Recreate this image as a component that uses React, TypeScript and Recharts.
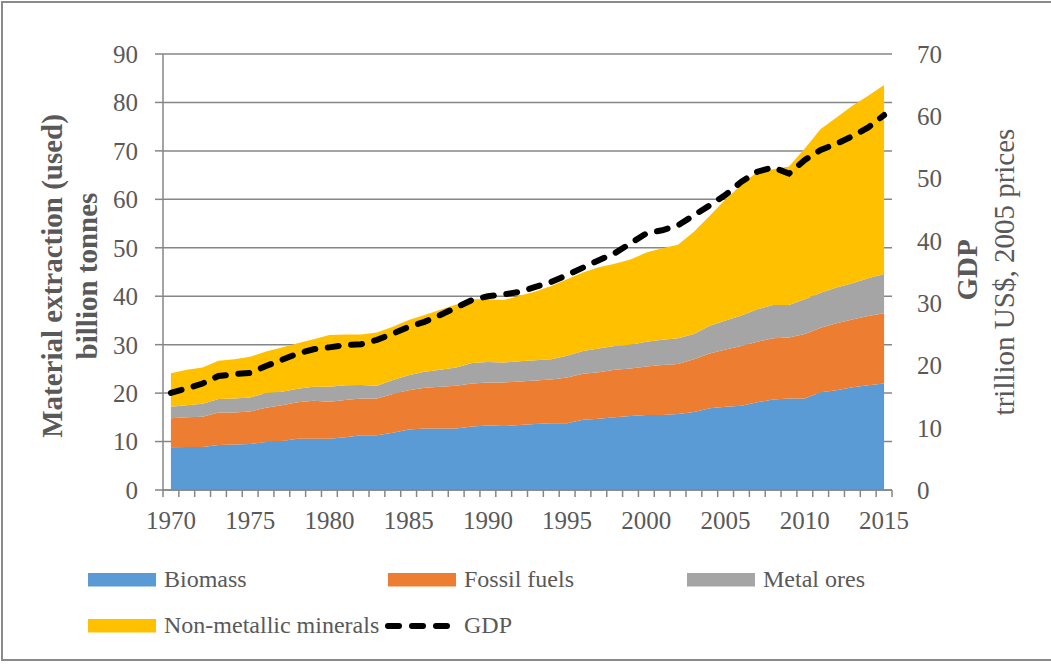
import React from 'react';
import { ComposedChart, Area, Line, XAxis, YAxis, CartesianGrid } from 'recharts';

const years = [
  1970, 1971, 1972, 1973, 1974, 1975, 1976, 1977, 1978, 1979,
  1980, 1981, 1982, 1983, 1984, 1985, 1986, 1987, 1988, 1989,
  1990, 1991, 1992, 1993, 1994, 1995, 1996, 1997, 1998, 1999,
  2000, 2001, 2002, 2003, 2004, 2005, 2006, 2007, 2008, 2009,
  2010, 2011, 2012, 2013, 2014, 2015,
];

// billion tonnes
const biomass = [
  8.8, 8.9, 8.9, 9.3, 9.4, 9.5, 9.9, 10.1, 10.6, 10.6,
  10.6, 10.9, 11.3, 11.3, 11.8, 12.5, 12.7, 12.7, 12.7, 13.1,
  13.3, 13.2, 13.4, 13.6, 13.8, 13.8, 14.5, 14.7, 15.0, 15.3,
  15.5, 15.5, 15.7, 16.1, 16.9, 17.2, 17.4, 18.1, 18.7, 18.9,
  18.9, 20.2, 20.6, 21.2, 21.6, 22.0,
];
const fossilFuels = [
  6.0, 6.1, 6.2, 6.7, 6.6, 6.7, 7.1, 7.4, 7.5, 7.8,
  7.6, 7.7, 7.6, 7.6, 8.0, 8.1, 8.4, 8.6, 8.8, 8.9,
  8.9, 9.0, 9.0, 9.0, 9.0, 9.4, 9.5, 9.6, 9.8, 9.8,
  10.0, 10.3, 10.3, 10.9, 11.3, 11.8, 12.3, 12.5, 12.6, 12.6,
  13.3, 13.3, 13.8, 14.0, 14.3, 14.5,
];
const metalOres = [
  2.4, 2.5, 2.7, 2.8, 2.9, 2.9, 3.0, 2.8, 2.8, 2.9,
  3.1, 3.0, 2.8, 2.6, 2.9, 3.1, 3.3, 3.5, 3.8, 4.2,
  4.2, 4.1, 4.2, 4.2, 4.2, 4.5, 4.7, 4.9, 4.9, 4.9,
  5.1, 5.2, 5.3, 5.2, 5.7, 6.0, 6.3, 6.7, 6.9, 6.7,
  7.2, 7.2, 7.4, 7.5, 7.8, 8.1,
];
const nonMetallic = [
  6.9, 7.3, 7.5, 7.9, 8.1, 8.4, 8.6, 9.1, 9.4, 9.8,
  10.7, 10.5, 10.4, 11.0, 11.0, 11.4, 11.7, 12.4, 13.0, 13.2,
  13.0, 12.9, 13.5, 14.2, 15.1, 15.8, 16.2, 16.8, 17.0, 17.6,
  18.4, 18.9, 19.3, 21.1, 22.7, 25.0, 27.0, 28.4, 28.0, 28.6,
  31.1, 33.8, 35.1, 36.6, 37.7, 39.0,
];
// trillion US$, 2005 prices
const gdp = [
  15.6, 16.3, 17.1, 18.3, 18.6, 18.8, 19.9, 20.9, 21.9, 22.6,
  22.9, 23.3, 23.4, 24.1, 25.1, 26.2, 27.0, 28.1, 29.3, 30.5,
  31.1, 31.4, 31.8, 32.6, 33.4, 34.5, 35.7, 36.9, 38.0, 39.6,
  41.2, 41.7, 42.5, 44.1, 45.7, 47.4, 49.5, 51.1, 51.8, 50.8,
  53.0, 54.6, 55.6, 56.8, 58.2, 60.2,
];

const leftTicks = [0, 10, 20, 30, 40, 50, 60, 70, 80, 90];
const rightTicks = [0, 10, 20, 30, 40, 50, 60, 70];

const areaSeries = [
  { key: 'biomass', name: 'Biomass', color: '#5B9BD5' },
  { key: 'fossil', name: 'Fossil fuels', color: '#ED7D31' },
  { key: 'metal', name: 'Metal ores', color: '#A5A5A5' },
  { key: 'nonmet', name: 'Non-metallic minerals', color: '#FFC000' },
];

const data = years.map((year, i) => ({
  year,
  biomass: biomass[i],
  fossil: fossilFuels[i],
  metal: metalOres[i],
  nonmet: nonMetallic[i],
  gdp: gdp[i],
}));

const W = 1051;
const LEFT_W = 163;
const RIGHT_W = 159;
const HALF_BAND = (W - LEFT_W - RIGHT_W) / years.length / 2;
const FONT = '"Liberation Serif", "DejaVu Serif", serif';
const TEXT = '#595959';
const GRID = '#868686';

function XTick(props: any) {
  const { x, y, payload, index } = props;
  const year = payload.value;
  return (
    <g>
      <line x1={x - HALF_BAND} y1={y} x2={x - HALF_BAND} y2={y + 7} stroke={GRID} strokeWidth={1.5} />
      {index === years.length - 1 && (
        <line x1={x + HALF_BAND} y1={y} x2={x + HALF_BAND} y2={y + 7} stroke={GRID} strokeWidth={1.5} />
      )}
      {year % 5 === 0 && (
        <text x={x} y={y + 39} textAnchor="middle" fill={TEXT} fontSize={25} fontFamily={FONT}>
          {year}
        </text>
      )}
    </g>
  );
}

// legend layout: 3 columns, 2 rows
const legendItems = [
  ...areaSeries.map((s) => ({ name: s.name, color: s.color, dashed: false })),
  { name: 'GDP', color: '#000', dashed: true },
];
const legendCols = [88, 388, 687];
const legendRows = [573, 619];

export default function App() {
  return (
    <div
      style={{
        position: 'absolute',
        left: 0,
        top: 0,
        width: W,
        height: 664,
        background: '#fff',
        fontFamily: FONT,
        overflow: 'hidden',
      }}
    >
      <div
        style={{
          position: 'absolute',
          left: 1,
          top: 1,
          width: W,
          height: 660,
          boxSizing: 'border-box',
          borderLeft: '2px solid #8a8a8a',
          borderTop: '2px solid #8a8a8a',
          borderBottom: '2px solid #8a8a8a',
        }}
      />
      <div style={{ position: 'absolute', left: 0, top: 0 }}>
        <ComposedChart width={W} height={550} data={data} margin={{ top: 54, right: 0, bottom: 0, left: 0 }}>
          <CartesianGrid yAxisId="left" vertical={false} stroke={GRID} strokeWidth={1.5} />
          <XAxis
            dataKey="year"
            height={60}
            padding={{ left: HALF_BAND, right: HALF_BAND }}
            interval={0}
            tickLine={false}
            tickSize={0}
            tickMargin={0}
            axisLine={{ stroke: GRID, strokeWidth: 1.5 }}
            tick={<XTick />}
          />
          <YAxis
            yAxisId="left"
            width={LEFT_W}
            domain={[0, 90]}
            ticks={leftTicks}
            interval={0}
            tickSize={8}
            tickMargin={17}
            axisLine={{ stroke: GRID, strokeWidth: 1.5 }}
            tickLine={{ stroke: GRID, strokeWidth: 1.5 }}
            tick={{ fill: TEXT, fontSize: 25, fontFamily: FONT }}
          />
          <YAxis
            yAxisId="right"
            orientation="right"
            width={RIGHT_W}
            domain={[0, 70]}
            ticks={rightTicks}
            interval={0}
            tickSize={0}
            tickMargin={25}
            axisLine={false}
            tickLine={false}
            tick={{ fill: TEXT, fontSize: 25, fontFamily: FONT }}
          />
          {areaSeries.map((s) => (
            <Area
              key={s.key}
              yAxisId="left"
              type="linear"
              dataKey={s.key}
              name={s.name}
              stackId="extraction"
              stroke="none"
              fill={s.color}
              fillOpacity={1}
              isAnimationActive={false}
            />
          ))}
          <Line
            yAxisId="right"
            type="linear"
            dataKey="gdp"
            name="GDP"
            stroke="#000"
            strokeWidth={6}
            strokeDasharray="11 12.5"
            strokeLinecap="round"
            dot={false}
            activeDot={false}
            isAnimationActive={false}
          />
        </ComposedChart>
      </div>
      <svg
        width={W}
        height={664}
        style={{ position: 'absolute', left: 0, top: 0, pointerEvents: 'none' }}
        fontFamily={FONT}
      >
        {/* axis titles */}
        <g transform="translate(62,276) rotate(-90)">
          <text textAnchor="middle" fill={TEXT} fontSize={29} fontWeight="bold">
            Material extraction (used)
          </text>
        </g>
        <g transform="translate(97,276) rotate(-90)">
          <text textAnchor="middle" fill={TEXT} fontSize={29} fontWeight="bold">
            billion tonnes
          </text>
        </g>
        <g transform="translate(977,270) rotate(-90)">
          <text textAnchor="middle" fill={TEXT} fontSize={29} fontWeight="bold">
            GDP
          </text>
        </g>
        <g transform="translate(1014,272) rotate(-90)">
          <text textAnchor="middle" fill={TEXT} fontSize={29}>
            trillion US$, 2005 prices
          </text>
        </g>
        {/* legend */}
        {legendItems.map((item, i) => {
          const lx = legendCols[i % 3];
          const ly = legendRows[Math.floor(i / 3)];
          return (
            <g key={item.name}>
              {item.dashed ? (
                <line
                  x1={lx}
                  y1={ly + 7}
                  x2={lx + 62}
                  y2={ly + 7}
                  stroke={item.color}
                  strokeWidth={6}
                  strokeDasharray="11 13"
                  strokeLinecap="round"
                />
              ) : (
                <rect x={lx} y={ly} width={68} height={13.5} fill={item.color} />
              )}
              <text x={lx + 76} y={ly + 13.5} fill={TEXT} fontSize={24}>
                {item.name}
              </text>
            </g>
          );
        })}
      </svg>
    </div>
  );
}
